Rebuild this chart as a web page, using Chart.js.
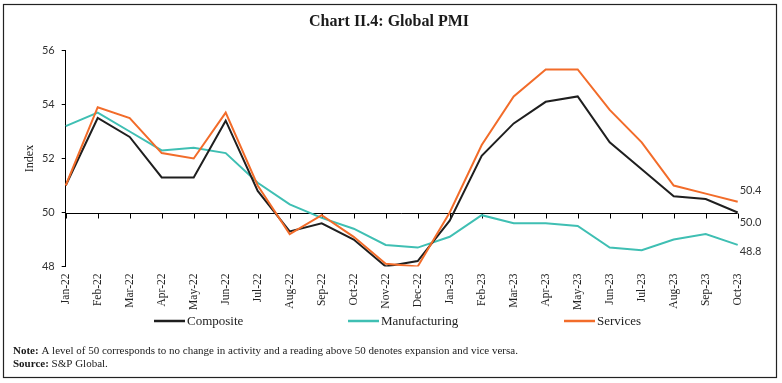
<!DOCTYPE html>
<html>
<head>
<meta charset="utf-8">
<script src="https://cdn.jsdelivr.net/npm/chart.js@4.4.0/dist/chart.umd.min.js"></script>
<style>
  html, body { margin: 0; padding: 0; background: #fff; }
  canvas { display: block; }
</style>
</head>
<body>
<canvas id="c" width="782" height="383"></canvas>
<script>
const categories = ['Jan-22','Feb-22','Mar-22','Apr-22','May-22','Jun-22','Jul-22','Aug-22','Sep-22','Oct-22','Nov-22','Dec-22',
                    'Jan-23','Feb-23','Mar-23','Apr-23','May-23','Jun-23','Jul-23','Aug-23','Sep-23','Oct-23'];
const composite     = [51.0,53.5,52.8,51.3,51.3,53.4,50.8,49.3,49.6,49.0,48.0,48.2,49.7,52.1,53.3,54.1,54.3,52.6,51.6,50.6,50.5,50.0];
const manufacturing = [53.2,53.7,53.0,52.3,52.4,52.2,51.1,50.3,49.8,49.4,48.8,48.7,49.1,49.9,49.6,49.6,49.5,48.7,48.6,49.0,49.2,48.8];
const services      = [51.0,53.9,53.5,52.2,52.0,53.7,51.0,49.2,49.9,49.1,48.1,48.0,50.0,52.5,54.3,55.3,55.3,53.8,52.6,51.0,50.7,50.4];
const yTicks = [48, 50, 52, 54, 56];
const seriesNames = ['Composite', 'Manufacturing', 'Services'];
const titleText = 'Chart II.4: Global PMI';
const yTitle = 'Index';
const noteText = 'A level of 50 corresponds to no change in activity and a reading above 50 denotes expansion and vice versa.';
const sourceText = 'S&P Global.';

const COLORS = ['#1f1f1f', '#3fbfb3', '#f26c2a'];
const SERIF = '"Liberation Serif", "DejaVu Serif", serif';
const SANS = 'Lato, "Open Sans", sans-serif';

const decor = {
  id: 'decor',
  beforeDraw(chart) {
    const ctx = chart.ctx;
    ctx.save();
    ctx.fillStyle = '#fff';
    ctx.fillRect(0, 0, chart.width, chart.height);
    ctx.restore();
  },
  beforeDatasetsDraw(chart) {
    const ctx = chart.ctx, xs = chart.scales.x, ys = chart.scales.y;
    const y50 = Math.round(ys.getPixelForValue(50)) + 0.5;
    ctx.save();
    ctx.strokeStyle = '#000';
    ctx.lineWidth = 1;
    ctx.beginPath();
    ctx.moveTo(chart.chartArea.left, y50);
    ctx.lineTo(chart.chartArea.right, y50);
    categories.forEach((c, i) => {
      const x = Math.round(xs.getPixelForValue(i)) + 0.5;
      ctx.moveTo(x, y50);
      ctx.lineTo(x, y50 + 5);
    });
    ctx.stroke();
    ctx.restore();
  },
  afterDraw(chart) {
    const ctx = chart.ctx, xs = chart.scales.x, ys = chart.scales.y;
    ctx.save();
    // title
    ctx.fillStyle = '#1a1a1a';
    ctx.font = 'bold 16px ' + SERIF;
    ctx.textAlign = 'center';
    ctx.textBaseline = 'middle';
    ctx.fillText(titleText, 389, 22);

    // end labels
    ctx.font = '11px ' + SANS;
    ctx.fillStyle = '#333';
    ctx.textAlign = 'left';
    const last = categories.length - 1;
    const xl = xs.getPixelForValue(last) + 2;
    ctx.fillText(services[last].toFixed(1), xl, ys.getPixelForValue(services[last]) - 11);
    ctx.fillText(composite[last].toFixed(1), xl, ys.getPixelForValue(composite[last]) + 10);
    ctx.fillText(manufacturing[last].toFixed(1), xl, ys.getPixelForValue(manufacturing[last]) + 7);

    // legend
    const lx = [154, 348, 564];
    const ly = 321;
    ctx.font = '13px ' + SERIF;
    ctx.fillStyle = '#222';
    seriesNames.forEach((n, i) => {
      ctx.strokeStyle = COLORS[i];
      ctx.lineWidth = 2.5;
      ctx.beginPath();
      ctx.moveTo(lx[i], ly);
      ctx.lineTo(lx[i] + 31, ly);
      ctx.stroke();
      ctx.fillText(n, lx[i] + 33, ly + 1);
    });

    // note & source
    ctx.font = 'bold 11px ' + SERIF;
    ctx.fillStyle = '#1a1a1a';
    ctx.fillText('Note:', 13, 351);
    let w = ctx.measureText('Note: ').width;
    ctx.font = '11px ' + SERIF;
    ctx.fillText(noteText, 13 + w, 351);
    ctx.font = 'bold 11px ' + SERIF;
    ctx.fillText('Source:', 13, 364);
    w = ctx.measureText('Source: ').width;
    ctx.font = '11px ' + SERIF;
    ctx.fillText(sourceText, 13 + w, 364);

    // border
    ctx.strokeStyle = '#222';
    ctx.lineWidth = 1.2;
    ctx.strokeRect(3.5, 4.5, 773, 373);
    ctx.restore();
  }
};

new Chart(document.getElementById('c'), {
  type: 'line',
  data: {
    labels: categories,
    datasets: [
      { label: seriesNames[0], data: composite, borderColor: COLORS[0], backgroundColor: COLORS[0], borderWidth: 2, pointRadius: 0, tension: 0, order: 2 },
      { label: seriesNames[1], data: manufacturing, borderColor: COLORS[1], backgroundColor: COLORS[1], borderWidth: 2, pointRadius: 0, tension: 0, order: 3 },
      { label: seriesNames[2], data: services, borderColor: COLORS[2], backgroundColor: COLORS[2], borderWidth: 2, pointRadius: 0, tension: 0, order: 1 }
    ]
  },
  options: {
    responsive: false,
    devicePixelRatio: 1,
    animation: false,
    events: [],
    layout: { padding: { left: 0, right: 44.3, top: 50.5, bottom: 0 } },
    plugins: { legend: { display: false }, title: { display: false }, tooltip: { enabled: false } },
    scales: {
      x: {
        grid: { display: false, drawTicks: false },
        border: { display: false },
        ticks: { minRotation: 90, maxRotation: 90, autoSkip: false, padding: 7,
                 font: { family: SERIF, size: 11.5 }, color: '#222' },
        afterFit(s) { s.height = 116.5; }
      },
      y: {
        min: 48, max: 56,
        afterBuildTicks(s) { s.ticks = yTicks.map(v => ({ value: v })); },
        grid: { display: true, drawOnChartArea: false, drawTicks: true, tickLength: 4, color: '#000' },
        border: { display: true, color: '#000', width: 1 },
        ticks: { padding: 7, font: { family: SANS, size: 11 }, color: '#333' },
        title: { display: true, text: yTitle, font: { family: SERIF, size: 12 }, color: '#222', padding: { top: 23, bottom: 0 } },
        afterFit(s) { s.width = 65.7; }
      }
    }
  },
  plugins: [decor]
});
</script>
</body>
</html>
